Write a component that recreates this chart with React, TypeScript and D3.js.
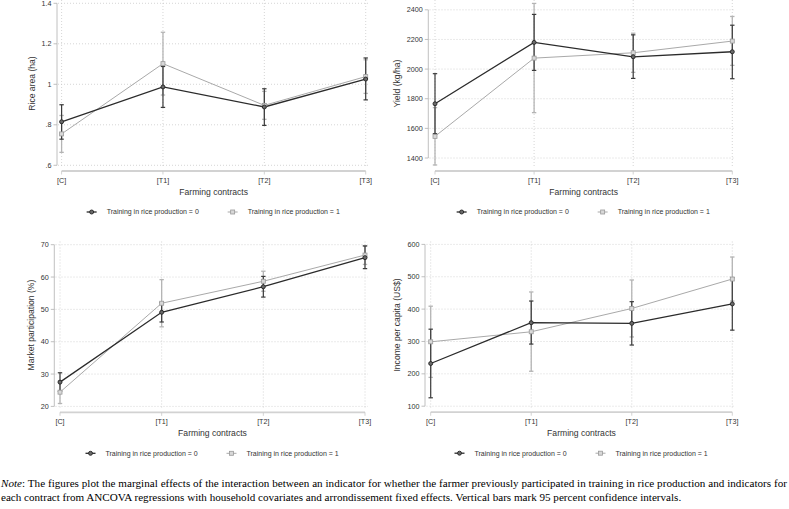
import React from "react";
import * as d3 from "d3";

// ---------- data ----------
const categories = ["[C]", "[T1]", "[T2]", "[T3]"];
const seriesNames = ["Training in rice production = 0", "Training in rice production = 1"];
const xTitle = "Farming contracts";

// Panel 1: Rice area (ha)
const riceTicks = [0.6, 0.8, 1, 1.2, 1.4];
const riceTickLabels = [".6", ".8", "1", "1.2", "1.4"];
const rice0 = [0.815, 0.987, 0.888, 1.026];
const rice0Lo = [0.729, 0.886, 0.797, 0.923];
const rice0Hi = [0.899, 1.088, 0.978, 1.13];
const rice1 = [0.755, 1.102, 0.896, 1.038];
const rice1Lo = [0.664, 0.947, 0.827, 0.955];
const rice1Hi = [0.846, 1.257, 0.965, 1.121];

// Panel 2: Yield (kg/ha)
const yieldTicks = [1400, 1600, 1800, 2000, 2200, 2400];
const yieldTickLabels = ["1400", "1600", "1800", "2000", "2200", "2400"];
const yield0 = [1766, 2180, 2083, 2117];
const yield0Lo = [1564, 1991, 1937, 1935];
const yield0Hi = [1969, 2369, 2231, 2296];
const yield1 = [1546, 2074, 2110, 2189];
const yield1Lo = [1353, 1706, 1978, 2025];
const yield1Hi = [1740, 2443, 2242, 2355];

// Panel 3: Market participation (%)
const marketTicks = [20, 30, 40, 50, 60, 70];
const marketTickLabels = ["20", "30", "40", "50", "60", "70"];
const market0 = [27.5, 49.1, 57.0, 66.0];
const market0Lo = [24.6, 46.1, 53.8, 62.6];
const market0Hi = [30.4, 52.1, 60.2, 69.6];
const market1 = [24.4, 51.9, 58.7, 66.8];
const market1Lo = [20.9, 44.6, 55.6, 63.9];
const market1Hi = [27.9, 59.2, 61.8, 69.7];

// Panel 4: Income per capita (US$)
const incomeTicks = [100, 200, 300, 400, 500, 600];
const incomeTickLabels = ["100", "200", "300", "400", "500", "600"];
const income0 = [232, 358, 356, 416];
const income0Lo = [126, 292, 289, 335];
const income0Hi = [338, 425, 423, 497];
const income1 = [299, 330, 402, 493];
const income1Lo = [189, 208, 314, 425];
const income1Hi = [409, 453, 490, 561];

const noteLine1Rest =
  ": The figures plot the marginal effects of the interaction between an indicator for whether the farmer previously participated in training in rice production and indicators for";
const noteLine2 =
  "each contract from ANCOVA regressions with household covariates and arrondissement fixed effects. Vertical bars mark 95 percent confidence intervals.";

// ---------- layout ----------
const W = 789;
const H = 509;
const SANS = "'Liberation Sans', Arial, Helvetica, sans-serif";
const SERIF = "'Liberation Serif', 'Times New Roman', serif";

type Layout = {
  axisX: number; xFirst: number; xLast: number; plotLeft: number; plotRight: number;
  plotTop: number; plotBottom: number; yMinPx: number; yMaxPx: number; axisY: number; titleX: number;
};

const layouts: Layout[] = [
  { axisX: 57, xFirst: 61.6, xLast: 365.7, plotLeft: 58, plotRight: 368, plotTop: 0, plotBottom: 167, yMinPx: 165.3, yMaxPx: 3.3, axisY: 171, titleX: 31.7 },
  { axisX: 428.3, xFirst: 435, xLast: 732.3, plotLeft: 429.5, plotRight: 735, plotTop: 0, plotBottom: 167, yMinPx: 158, yMaxPx: 9.8, axisY: 171, titleX: 396.7 },
  { axisX: 54.3, xFirst: 60, xLast: 365, plotLeft: 55.5, plotRight: 368, plotTop: 241.5, plotBottom: 408.5, yMinPx: 406.4, yMaxPx: 244.7, axisY: 412.3, titleX: 31 },
  { axisX: 425, xFirst: 430.7, xLast: 732.3, plotLeft: 426.5, plotRight: 735, plotTop: 241.5, plotBottom: 408.5, yMinPx: 406.2, yMaxPx: 244.4, axisY: 412.2, titleX: 397 },
];

type PanelData = {
  yTitle: string; ticks: number[]; tickLabels: string[];
  s0: number[]; s0Lo: number[]; s0Hi: number[];
  s1: number[]; s1Lo: number[]; s1Hi: number[];
};

const panels: PanelData[] = [
  { yTitle: "Rice area (ha)", ticks: riceTicks, tickLabels: riceTickLabels, s0: rice0, s0Lo: rice0Lo, s0Hi: rice0Hi, s1: rice1, s1Lo: rice1Lo, s1Hi: rice1Hi },
  { yTitle: "Yield (kg/ha)", ticks: yieldTicks, tickLabels: yieldTickLabels, s0: yield0, s0Lo: yield0Lo, s0Hi: yield0Hi, s1: yield1, s1Lo: yield1Lo, s1Hi: yield1Hi },
  { yTitle: "Market participation (%)", ticks: marketTicks, tickLabels: marketTickLabels, s0: market0, s0Lo: market0Lo, s0Hi: market0Hi, s1: market1, s1Lo: market1Lo, s1Hi: market1Hi },
  { yTitle: "Income per capita (US$)", ticks: incomeTicks, tickLabels: incomeTickLabels, s0: income0, s0Lo: income0Lo, s0Hi: income0Hi, s1: income1, s1Lo: income1Lo, s1Hi: income1Hi },
];

const C0 = { line: "#2b2b2b", ci: "#3a3a3a", mFill: "#6a6a6a", mStroke: "#222" };
const C1 = { line: "#a9a9a9", ci: "#b4b4b4", mFill: "#d8d8d8", mStroke: "#9a9a9a" };

function Panel({ d, L }: { d: PanelData; L: Layout }) {
  const x = d3.scalePoint<string>().domain(categories).range([L.xFirst, L.xLast]);
  const yMin = d3.min(d.ticks) as number;
  const yMax = d3.max(d.ticks) as number;
  const y = d3.scaleLinear().domain([yMin, yMax]).range([L.yMinPx, L.yMaxPx]);
  const line = d3.line<number>().x((_, i) => x(categories[i]) as number).y((v) => y(v));
  const cx = (L.xFirst + L.xLast) / 2;
  const capW = 2.2;

  const ciBars = (vals: number[], lo: number[], hi: number[], color: string, w: number) =>
    vals.map((_, i) => {
      const xx = x(categories[i]) as number;
      return (
        <g key={i} stroke={color} strokeWidth={w} fill="none">
          <line x1={xx} x2={xx} y1={y(lo[i])} y2={y(hi[i])} />
          <line x1={xx - capW} x2={xx + capW} y1={y(lo[i])} y2={y(lo[i])} />
          <line x1={xx - capW} x2={xx + capW} y1={y(hi[i])} y2={y(hi[i])} />
        </g>
      );
    });

  const legendY = L.axisY + 41;
  return (
    <g>
      {/* grid */}
      {d.ticks.map((t) => (
        <line key={"h" + t} x1={L.plotLeft} x2={L.plotRight} y1={y(t)} y2={y(t)} stroke="#c4c4c4" strokeWidth={0.7} strokeDasharray="1,2" />
      ))}
      {categories.map((c) => (
        <line key={"v" + c} x1={x(c)} x2={x(c)} y1={L.plotTop} y2={L.plotBottom} stroke="#c4c4c4" strokeWidth={0.7} strokeDasharray="1,2" />
      ))}
      {/* y axis */}
      <line x1={L.axisX} x2={L.axisX} y1={y(yMin)} y2={y(yMax)} stroke="#b0b0b0" strokeWidth={0.8} />
      {d.ticks.map((t, i) => (
        <g key={"yt" + t}>
          <line x1={L.axisX - 3.5} x2={L.axisX} y1={y(t)} y2={y(t)} stroke="#b0b0b0" strokeWidth={0.8} />
          <text x={L.axisX - 5.5} y={y(t)} dy="0.35em" textAnchor="end" fontFamily={SANS} fontSize={7.2} fill="#333">
            {d.tickLabels[i]}
          </text>
        </g>
      ))}
      <text
        transform={`translate(${L.titleX},${(L.plotTop + L.plotBottom) / 2}) rotate(-90)`}
        textAnchor="middle" dy="0.35em" fontFamily={SANS} fontSize={8.6} fill="#333"
      >
        {d.yTitle}
      </text>
      {/* x axis */}
      <line x1={L.xFirst} x2={L.xLast} y1={L.axisY} y2={L.axisY} stroke="#d2d2d2" strokeWidth={1.8} />
      {categories.map((c) => (
        <g key={"xt" + c}>
          <line x1={x(c)} x2={x(c)} y1={L.axisY} y2={L.axisY + 3.5} stroke="#c8c8c8" strokeWidth={0.8} />
          <text x={x(c)} y={L.axisY + 11.5} textAnchor="middle" fontFamily={SANS} fontSize={7.2} fill="#333">
            {c}
          </text>
        </g>
      ))}
      <text x={cx} y={L.axisY + 24} textAnchor="middle" fontFamily={SANS} fontSize={8.6} fill="#333">
        {xTitle}
      </text>
      {/* CIs */}
      {ciBars(d.s1, d.s1Lo, d.s1Hi, C1.ci, 1.3)}
      {ciBars(d.s0, d.s0Lo, d.s0Hi, C0.ci, 1.2)}
      {/* lines */}
      <path d={line(d.s1) as string} fill="none" stroke={C1.line} strokeWidth={1} />
      <path d={line(d.s0) as string} fill="none" stroke={C0.line} strokeWidth={1.3} />
      {/* markers */}
      {d.s1.map((v, i) => (
        <rect key={"m1" + i} x={(x(categories[i]) as number) - 2} y={y(v) - 2} width={4} height={4} fill={C1.mFill} stroke={C1.mStroke} strokeWidth={0.8} />
      ))}
      {d.s0.map((v, i) => (
        <circle key={"m0" + i} cx={x(categories[i]) as number} cy={y(v)} r={2} fill={C0.mFill} stroke={C0.mStroke} strokeWidth={0.9} />
      ))}
      {/* legend */}
      <g>
        <line x1={cx - 127} x2={cx - 117} y1={legendY} y2={legendY} stroke={C0.line} strokeWidth={1.3} />
        <circle cx={cx - 122} cy={legendY} r={2} fill={C0.mFill} stroke={C0.mStroke} strokeWidth={0.9} />
        <text x={cx - 107} y={legendY} dy="0.35em" fontFamily={SANS} fontSize={7} fill="#333">{seriesNames[0]}</text>
        <line x1={cx + 14} x2={cx + 24} y1={legendY} y2={legendY} stroke={C1.line} strokeWidth={1} />
        <rect x={cx + 17} y={legendY - 2} width={4} height={4} fill={C1.mFill} stroke={C1.mStroke} strokeWidth={0.8} />
        <text x={cx + 34} y={legendY} dy="0.35em" fontFamily={SANS} fontSize={7} fill="#333">{seriesNames[1]}</text>
      </g>
    </g>
  );
}

export default function App() {
  return (
    <svg width={W} height={H} viewBox={`0 0 ${W} ${H}`} style={{ position: "absolute", left: 0, top: 0, background: "#fff" }}>
      <rect x={0} y={0} width={W} height={H} fill="#fff" />
      {panels.map((p, i) => (
        <Panel key={i} d={p} L={layouts[i]} />
      ))}
      <text x={1} y={487} fontFamily={SERIF} fontSize={11.1} fill="#000" textLength={786} lengthAdjust="spacing">
        <tspan fontStyle="italic">Note</tspan>
        {noteLine1Rest}
      </text>
      <text x={1} y={500.5} fontFamily={SERIF} fontSize={11.1} fill="#000">
        {noteLine2}
      </text>
    </svg>
  );
}
